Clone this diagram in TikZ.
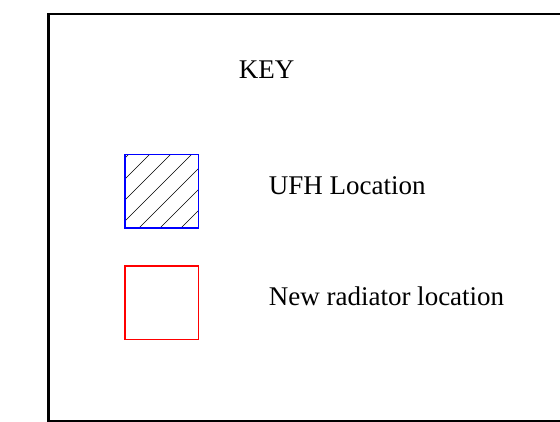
\documentclass[tikz,border=0pt]{standalone}
\usepackage{fontspec}
\setmainfont{Liberation Serif}
\begin{document}
\begin{tikzpicture}[x=1pt,y=1pt,
  keytext/.style={font=\fontsize{27}{32}\selectfont,inner sep=0pt,anchor=base west},
  keybox/.style={draw,line width=1.5pt,minimum size=73.5pt,inner sep=0pt},
  hatched/.style={path picture={
      \foreach \c in {0,...,6}
        \draw[black,line width=0.6pt] (-60,{-116.1+21*\c}) -- ++(120,120);}}]
  \useasboundingbox (0,0) rectangle (560,421);
  \draw[line width=2.7pt] (48.7,0) -- (48.7,407) -- (600,407) -- (600,0) -- cycle;
  \node[keytext] (key) at (238.6,342) {KEY};
  \node[keybox,hatched,draw=blue] (ufhbox) at (161.5,229.6) {};
  \node[keybox,draw=red] (radbox) at (161.5,118.3) {};
  \node[keytext] (ufh) at (268.6,226) {UFH Location};
  \node[keytext] (rad) at (268.6,115.3) {New radiator location};
\end{tikzpicture}
\end{document}
